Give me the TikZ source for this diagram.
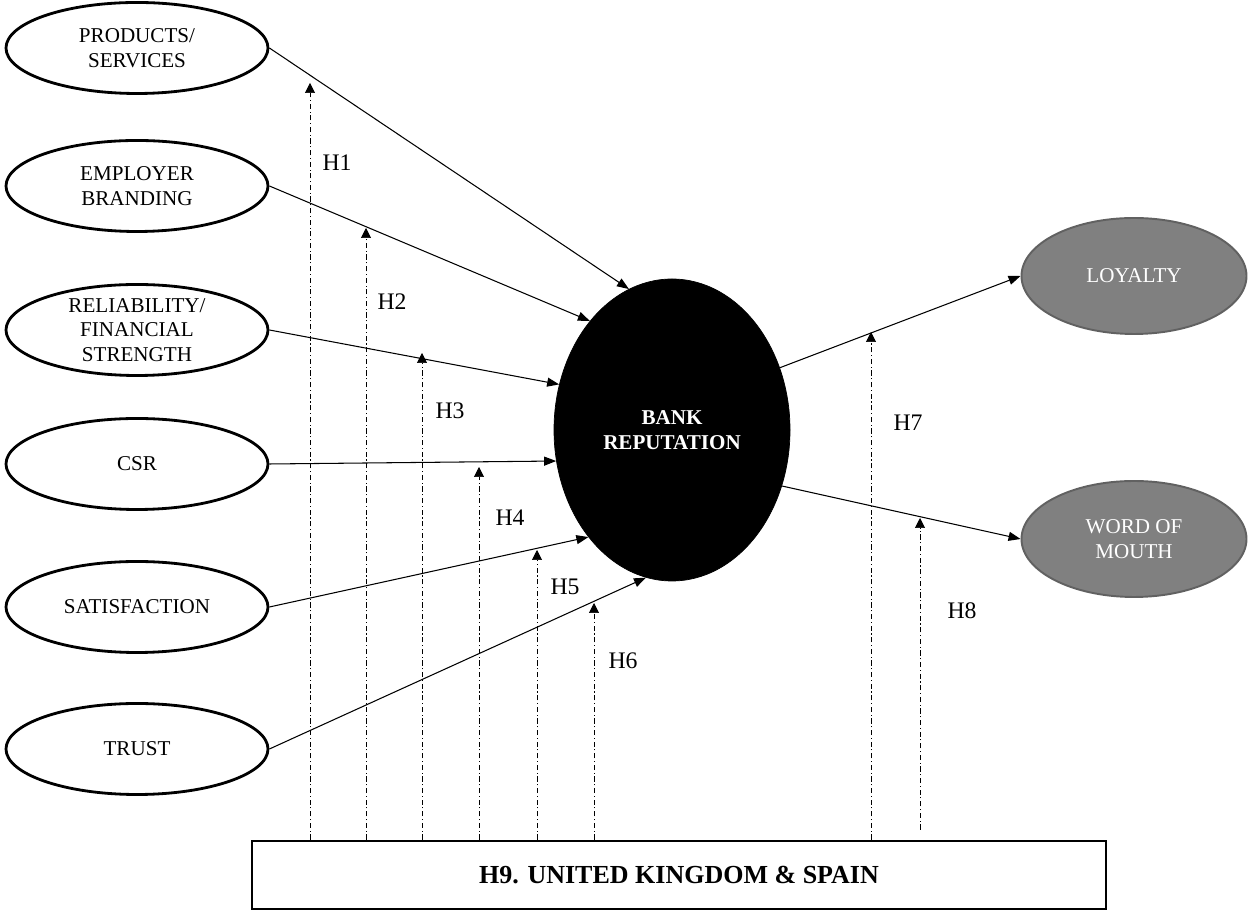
\documentclass[tikz,border=0pt]{standalone}
\usepackage{fontspec}
\setmainfont{Liberation Serif}
\usetikzlibrary{arrows.meta,shapes.geometric}

\begin{document}
\begin{tikzpicture}[x=1cm,y=1cm,font=\fontsize{12}{14}\selectfont,
  construct/.style={ellipse,draw=black,line width=1.6pt,minimum width=5.24cm,
    minimum height=1.82cm,align=center,inner sep=0pt},
  core/.style={ellipse,draw=black,fill=black,minimum width=4.72cm,
    minimum height=6.04cm,align=center,text=white,
    font=\fontsize{12}{14}\selectfont\bfseries},
  outcome/.style={ellipse,draw=black!62,fill=black!50,line width=1.1pt,
    minimum width=4.5cm,minimum height=2.32cm,align=center,text=white},
  moderator/.style={draw=black,line width=1.6pt,minimum width=17.08cm,
    minimum height=1.36cm,font=\fontsize{14.8}{16}\selectfont\bfseries},
  effect/.style={-{Triangle[length=2.4mm,width=1.8mm]},draw=black,line width=.6pt},
  moderation/.style={-{Triangle[length=2mm,width=2mm]},draw=black,
    line width=.4pt,dash pattern=on 3pt off 1.5pt on .6pt off 1.5pt},
  hyp/.style={font=\fontsize{13.5}{15}\selectfont}
]
 \path[use as bounding box] (0,0) rectangle (25,18.22);

 % antecedents of reputation
 \foreach \nm/\yy/\txt in {prod/17.26/{PRODUCTS/\\SERVICES},
     empl/14.50/{EMPLOYER\\BRANDING},
     reli/11.62/{RELIABILITY/\\FINANCIAL\\STRENGTH},
     csr/8.94/{CSR},sat/6.08/{SATISFACTION},trust/3.24/{TRUST}}
   \node[construct] (\nm) at (2.74,\yy) {\txt};

 \node[core] (bank) at (13.44,9.62) {BANK\\REPUTATION};
 \node[outcome] (loyal) at (22.68,12.70) {LOYALTY};
 \node[outcome] (wom) at (22.68,7.44) {WORD OF\\MOUTH};
 \node[moderator] (country) at (13.58,.72) {H9. UNITED KINGDOM \& SPAIN};

 % direct effects
 \draw[effect] (prod.east) -- (bank.107);
 \draw[effect] (empl.east) -- (bank.127);
 \draw[effect] (reli.east) -- (bank.158);
 \draw[effect] (csr.east) -- (bank.195);
 \draw[effect] (sat.east) -- (bank.232);
 \draw[effect] (trust.east) -- (bank.260);
 \draw[effect] (bank.30) -- (loyal.west);
 \draw[effect] (bank.333) -- (wom.west);

 % moderating effect of the country
 \foreach \i/\xx/\yy in {1/6.20/16.56,2/7.32/13.66,3/8.44/11.16,4/9.58/8.88,
     5/10.74/7.22,6/11.88/6.16,7/17.42/11.58,8/18.40/7.86}
   \coordinate (t\i) at (\xx,\yy);
 \foreach \i in {1,...,7}
   \draw[moderation] (t\i |- country.north) -- (t\i);
 \draw[moderation] ([yshift=2mm]t8 |- country.north) -- (t8);

 \foreach \i/\xx/\yy in {1/6.74/14.96,2/7.84/12.18,3/9.00/10.00,4/10.20/7.86,
     5/11.30/6.48,6/12.46/5.00,7/18.16/9.76,8/19.24/6.00}
   \node[hyp] (h\i) at (\xx,\yy) {H\i};
\end{tikzpicture}
\end{document}
